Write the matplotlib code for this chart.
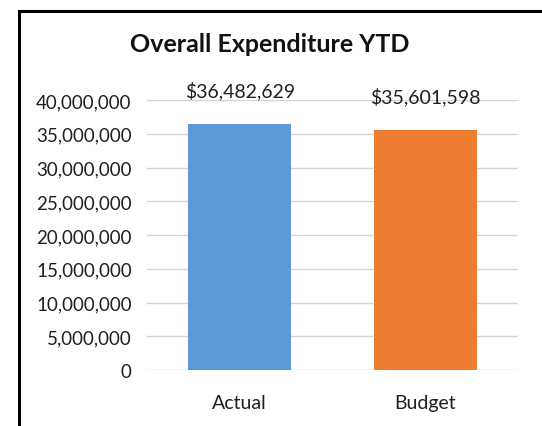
import matplotlib.pyplot as plt
from matplotlib.patches import Rectangle
from matplotlib.ticker import FuncFormatter

categories = ["Actual", "Budget"]
values = [36482629, 35601598]
bar_colors = ["#5B9BD5", "#ED7D31"]
yticks = list(range(0, 40000001, 5000000))

plt.rcParams['font.family'] = ['Lato', 'DejaVu Sans']

fig = plt.figure(figsize=(5.42, 4.27), dpi=100)
ax = fig.add_axes([147 / 542, 1 - 371 / 427, (518 - 147) / 542, (371 - 101) / 427])

x = range(len(categories))
bars = ax.bar(x, values, width=0.555, color=bar_colors, zorder=2)

# data labels above bars
for xi, v in zip(x, values):
    ax.annotate("${:,}".format(v), (xi, v), xytext=(0, 24), textcoords="offset points",
                ha="center", va="center", fontsize=14, color="#202020")

ax.set_xlim(-0.5, 1.5)
ax.set_ylim(0, 40000000)
ax.set_yticks(yticks)
ax.yaxis.set_major_formatter(FuncFormatter(lambda v, p: "{:,}".format(int(v))))
ax.set_xticks(list(x))
ax.set_xticklabels(categories)
ax.tick_params(axis="y", length=0, pad=11, labelsize=13.5, labelcolor="#202020")
ax.tick_params(axis="x", length=0, pad=17, labelsize=14, labelcolor="#202020")
ax.grid(axis="y", color="#d4d4d4", linewidth=1, zorder=0)
ax.set_axisbelow(True)
for s in ax.spines.values():
    s.set_visible(False)

fig.text(270 / 542, 1 - 45 / 427, "Overall Expenditure YTD", ha="center", va="center",
         fontsize=18, fontweight="bold", color="#111111")

# black frame around the chart (clipped at right and bottom)
fig.patches.append(Rectangle((19 / 542, -0.1), 1.2, 1 - 12 / 427 + 0.1, transform=fig.transFigure,
                             fill=False, edgecolor="black", linewidth=2.2))

fig.savefig("out.png", dpi=100)
